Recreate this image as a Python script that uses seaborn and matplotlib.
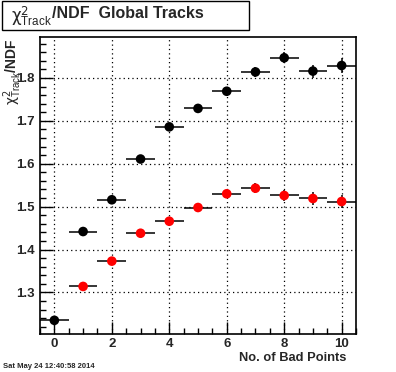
import numpy as np
import pandas as pd
import seaborn as sns
import matplotlib.pyplot as plt
from matplotlib.patches import Rectangle
from matplotlib.ticker import MultipleLocator

# values
bad_points_black = [0, 1, 2, 3, 4, 5, 6, 7, 8, 9, 10]
chi2_black = [1.235, 1.442, 1.516, 1.611, 1.686, 1.729, 1.769, 1.814, 1.847, 1.816, 1.829]
err_black = [0.004, 0.004, 0.005, 0.006, 0.007, 0.008, 0.009, 0.011, 0.013, 0.015, 0.017]

bad_points_red = [1, 2, 3, 4, 5, 6, 7, 8, 9, 10]
chi2_red = [1.314, 1.373, 1.438, 1.466, 1.498, 1.530, 1.543, 1.526, 1.519, 1.512]
err_red = [0.004, 0.005, 0.006, 0.007, 0.008, 0.010, 0.011, 0.012, 0.014, 0.015]

df = pd.concat([
    pd.DataFrame({'x': bad_points_black, 'y': chi2_black, 'err': err_black, 'set': 'black'}),
    pd.DataFrame({'x': bad_points_red, 'y': chi2_red, 'err': err_red, 'set': 'red'}),
])

sns.set_style('white')
plt.rcParams['font.family'] = ['Liberation Sans', 'DejaVu Sans']
# chi from DejaVu (rm), the rest of the label in Liberation (sf)
plt.rcParams['mathtext.fontset'] = 'custom'
plt.rcParams['mathtext.rm'] = 'DejaVu Sans'
plt.rcParams['mathtext.sf'] = 'Liberation Sans'
plt.rcParams['mathtext.it'] = 'Liberation Sans:italic'
plt.rcParams['mathtext.bf'] = 'Liberation Sans:bold'

fig = plt.figure(figsize=(3.96, 3.72), dpi=100)
ax = fig.add_axes([0.101, 0.102, 0.798, 0.798])

# grid (dotted, at major ticks)
ax.grid(True, which='major', color='black', linestyle=(0, (1, 2.5)), linewidth=0.9)
ax.set_axisbelow(True)

palette = {'black': 'black', 'red': 'red'}
for name, sub in df.groupby('set'):
    ax.errorbar(sub['x'], sub['y'], xerr=0.5, yerr=sub['err'], fmt='none',
                ecolor='black', elinewidth=1.1, capsize=0, zorder=2)
sns.scatterplot(data=df, x='x', y='y', hue='set', palette=palette, s=48,
                edgecolor='none', legend=False, ax=ax, zorder=3)

ax.set_xlim(-0.5, 10.5)
ax.set_ylim(1.203, 1.895)
ax.xaxis.set_major_locator(MultipleLocator(2))
ax.xaxis.set_minor_locator(MultipleLocator(0.5))
ax.yaxis.set_major_locator(MultipleLocator(0.1))
ax.yaxis.set_minor_locator(MultipleLocator(0.02))
ax.tick_params(which='both', direction='in', top=False, right=False,
               left=True, bottom=True, width=1.0, color='black')
ax.tick_params(which='major', length=9, labelsize=9.5)
ax.tick_params(axis='x', which='major', pad=3)
ax.tick_params(axis='y', which='major', pad=4)
ax.tick_params(which='minor', length=4.5)
ax.set_yticks([1.3, 1.4, 1.5, 1.6, 1.7, 1.8])
ax.set_yticklabels(['1.3', '1.4', '1.5', '1.6', '1.7', '1.8'])
for lab in ax.get_xticklabels() + ax.get_yticklabels():
    lab.set_fontweight('bold')
for sp in ax.spines.values():
    sp.set_color('black')
    sp.set_linewidth(1.2)
ax.set_xlabel('')
ax.set_ylabel('')

# axis titles in ROOT style
fig.text(346 / 396, 1 - 358 / 372, 'No. of Bad Points', ha='right', va='center',
         fontsize=9.3, fontweight='bold')
fig.text(13 / 396, 1 - 38 / 372, r'$\mathrm{\chi}^{2}_{\mathsf{Track}}$/NDF', ha='center', va='top',
         rotation=90, fontsize=10, fontweight='bold')

# title box
fig.patches.append(Rectangle((2 / 396, 1 - 30 / 372), 247 / 396, 29 / 372,
                             transform=fig.transFigure, facecolor='white',
                             edgecolor='black', linewidth=1.0))
fig.text(11 / 396, 1 - 16 / 372, r'$\mathrm{\chi}^{2}_{\mathsf{Track}}$', ha='left', va='center',
         fontsize=12)
fig.text(52 / 396, 1 - 14 / 372, '/NDF  Global Tracks', ha='left', va='center',
         fontsize=11.5, fontweight='bold')

# date stamp
fig.text(3 / 396, 1 - 366 / 372, 'Sat May 24 12:40:58 2014', ha='left', va='center',
         fontsize=5.5, fontweight='bold')

fig.savefig('out.png', dpi=100)
